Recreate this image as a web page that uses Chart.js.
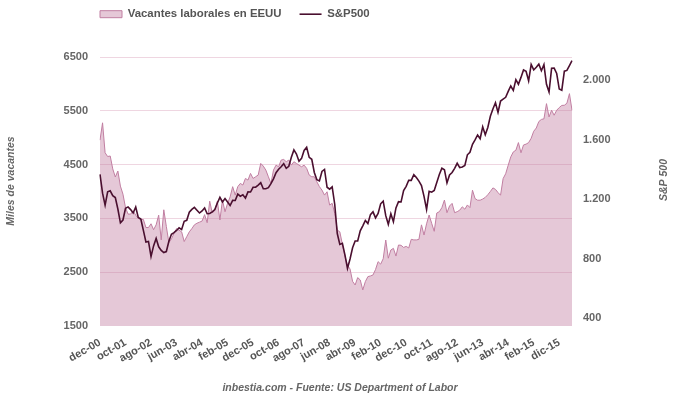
<!DOCTYPE html>
<html>
<head>
<meta charset="utf-8">
<script src="https://cdn.jsdelivr.net/npm/chart.js@4.4.1/dist/chart.umd.min.js"></script>
<style>
	html, body { margin: 0; padding: 0; background: #fff; }
	#wrap { width: 680px; height: 401px; }
</style>
</head>
<body>
<div id="wrap"><canvas id="chart"></canvas></div>
<script>
// Vacantes laborales (miles), mensual dic-2000 .. may-2016.
var vacantes = [
	4955,
	5277, 4720, 4650, 4660, 4420, 4270, 4380, 4100, 3950, 3700, 3580, 3580,
	3640, 3560, 3500, 3480, 3480, 3330, 3330, 3400, 3290, 3380, 3560, 3100,
	3660, 3350, 3050, 3120, 3220, 3310, 3280, 3250, 3070, 3160, 3250, 3310,
	3380, 3410, 3430, 3450, 3570, 3420, 3820, 3600, 3650, 3820, 3470, 3840,
	3624, 3780, 3900, 4090, 3933, 4090, 4150, 4120, 4243, 4212, 4336, 4243,
	4274, 4305, 4522, 4472, 4398, 4274, 4150, 4398, 4490, 4460, 4584, 4596,
	4553, 4584, 4490, 4553, 4522, 4490, 4460, 4490, 4430, 4305, 4274, 4274,
	4180, 4090, 4026, 3933, 3995, 3748, 3780, 3593, 3283, 3250, 3020, 2800,
	2630, 2560, 2330, 2262, 2400, 2356, 2170, 2325, 2418, 2430, 2448, 2550,
	2696, 2650, 2750, 3098, 2760, 2913, 2943, 2800, 3005, 3000, 2960, 2980,
	2950, 3111, 3100, 3100, 3110, 3380, 3191, 3400, 3563, 3408, 3260, 3600,
	3625, 3700, 3841, 3606, 3730, 3779, 3606, 3625, 3653, 3715, 3671, 3750,
	3700, 4024, 3869, 3838, 3838, 3860, 3890, 3940, 4000, 4067, 4040, 3980,
	3931, 4240, 4330, 4488, 4643, 4736, 4767, 4909, 4720, 4865, 4880, 4909,
	4990, 5120, 5180, 5300, 5340, 5350, 5633, 5386, 5510, 5417, 5510, 5560,
	5600, 5603, 5640, 5819, 5510
];

// S&P500, mismo rango de meses.
var sp500 = [
	1366, 1240, 1160, 1249, 1256, 1224, 1211, 1134, 1041, 1060, 1139, 1148,
	1130, 1107, 1147, 1077, 1067, 990, 912, 916, 815, 886, 936, 880,
	856, 841, 848, 917, 964, 975, 990, 1008, 996, 1051, 1058, 1112,
	1131, 1145, 1126, 1107, 1121, 1141, 1102, 1104, 1115, 1130, 1174, 1212,
	1181, 1204, 1181, 1157, 1192, 1191, 1234, 1220, 1229, 1207, 1249, 1248,
	1280, 1281, 1295, 1311, 1270, 1270, 1277, 1304, 1336, 1378, 1401, 1418,
	1438, 1407, 1421, 1482, 1531, 1503, 1455, 1474, 1527, 1549, 1481, 1468,
	1379, 1331, 1323, 1386, 1400, 1280, 1267, 1283, 1166, 969, 896, 903,
	826, 735, 798, 873, 919, 919, 987, 1021, 1057, 1036, 1096, 1115,
	1074, 1104, 1169, 1187, 1089, 1031, 1102, 1049, 1141, 1183, 1181, 1258,
	1286, 1327, 1326, 1364, 1345, 1321, 1292, 1219, 1131, 1253, 1247, 1258,
	1312, 1366, 1408, 1398, 1310, 1362, 1379, 1407, 1441, 1412, 1416, 1426,
	1498, 1515, 1569, 1598, 1631, 1606, 1686, 1633, 1682, 1757, 1806, 1848,
	1783, 1859, 1872, 1884, 1924, 1960, 1931, 2003, 1972, 2018, 2068, 2059,
	1995, 2105, 2068, 2086, 2107, 2063, 2104, 1972, 1920, 2079, 2080, 2044,
	1940, 1932, 2060, 2065, 2097, 2130
];

// Etiquetas del eje X (una cada 10 meses).
var xTickLabels = ['dec-00', 'oct-01', 'ago-02', 'jun-03', 'abr-04', 'feb-05', 'dec-05', 'oct-06', 'ago-07',
	'jun-08', 'abr-09', 'feb-10', 'dec-10', 'oct-11', 'ago-12', 'jun-13', 'abr-14', 'feb-15', 'dic-15'];
var rightTicks = [400, 800, 1200, 1600, 2000];
var monthNames = ['ene', 'feb', 'mar', 'abr', 'may', 'jun', 'jul', 'ago', 'sep', 'oct', 'nov', 'dic'];

var months = vacantes.map(function (v, i) {
	var m = (11 + i) % 12;
	var y = 2000 + Math.floor((11 + i) / 12);
	return monthNames[m] + '-' + String(y).slice(2);
});

var tickFont = { family: '"Liberation Sans", Arial, sans-serif', size: 11, weight: 'bold' };
var titleFont = 'italic bold 10.5px "Liberation Sans", Arial, sans-serif';

// Legend position, axis titles.
var tweaks = {
	id: 'tweaks',
	beforeLayout: function (chart) {
		var lg = chart.legend;
		if (lg && !lg._patched) {
			var fit = lg.fit;
			lg.fit = function () { fit.call(this); this.height = 57; };
			lg._patched = true;
		}
	},
	afterLayout: function (chart) {
		chart.legend.left = 82;
		chart.legend.top = -9.5;
	},
	afterDraw: function (chart) {
		var ctx = chart.ctx;
		ctx.save();
		ctx.font = titleFont;
		ctx.fillStyle = '#666';
		ctx.textAlign = 'center';
		ctx.textBaseline = 'middle';
		ctx.translate(11, 181);
		ctx.rotate(-Math.PI / 2);
		ctx.fillText('Miles de vacantes', 0, 0);
		ctx.restore();
		ctx.save();
		ctx.font = titleFont;
		ctx.fillStyle = '#666';
		ctx.textAlign = 'center';
		ctx.textBaseline = 'middle';
		ctx.translate(664, 180);
		ctx.rotate(-Math.PI / 2);
		ctx.fillText('S&P 500', 0, 0);
		ctx.restore();
	}
};

new Chart(document.getElementById('chart'), {
	type: 'line',
	data: {
		labels: months,
		datasets: [{
			label: 'Vacantes laborales en EEUU',
			data: vacantes,
			yAxisID: 'y',
			borderColor: '#c17fa2',
			backgroundColor: 'rgba(192,125,160,0.42)',
			borderWidth: 1,
			fill: 'start',
			pointRadius: 0,
			pointStyle: 'rect',
			order: 2
		}, {
			label: 'S&P500',
			data: sp500,
			yAxisID: 'y1',
			borderColor: '#4a0f2f',
			backgroundColor: '#4a0f2f',
			borderWidth: 1.6,
			fill: false,
			pointRadius: 0,
			pointStyle: 'line',
			order: 1
		}]
	},
	options: {
		responsive: true,
		maintainAspectRatio: false,
		animation: false,
		layout: { padding: 0 },
		plugins: {
			legend: {
				align: 'start',
				labels: {
					usePointStyle: true,
					pointStyleWidth: 22,
					boxHeight: 7,
					padding: 18,
					color: '#555',
					font: { family: '"Liberation Sans", Arial, sans-serif', size: 11.4, weight: 'bold' },
					sort: function (a, b) { return a.datasetIndex - b.datasetIndex; }
				}
			},
			title: {
				display: true,
				position: 'bottom',
				text: 'inbestia.com - Fuente: US Department of Labor',
				color: '#666',
				font: { family: '"Liberation Sans", Arial, sans-serif', size: 10.5, weight: 'bold', style: 'italic' },
				padding: { top: 15.7, bottom: 6.7 }
			},
			tooltip: { enabled: false }
		},
		scales: {
			x: {
				grid: { display: false },
				border: { display: false },
				afterFit: function (scale) { scale.height = 40; },
				ticks: {
					autoSkip: false,
					minRotation: 30,
					maxRotation: 30,
					padding: 2,
					color: '#555',
					font: tickFont,
					callback: function (v, i) { return i % 10 === 0 ? xTickLabels[i / 10] : ''; }
				}
			},
			y: {
				position: 'left',
				min: 1500,
				max: 6500,
				z: 1,
				border: { display: false },
				afterFit: function (scale) { scale.width = 100; },
				grid: {
					drawTicks: false,
					lineWidth: 1,
					color: function (c) { return c.tick && c.tick.value === 1500 ? 'rgba(0,0,0,0)' : 'rgba(190,90,135,0.25)'; }
				},
				ticks: {
					stepSize: 1000,
					padding: 12,
					color: '#666',
					font: tickFont,
					callback: function (v) { return String(v); }
				}
			},
			y1: {
				position: 'right',
				min: 348,
				max: 2155,
				border: { display: false },
				grid: { display: false, drawTicks: false },
				afterFit: function (scale) { scale.width = 108; },
				afterBuildTicks: function (scale) {
					scale.ticks = rightTicks.map(function (v) { return { value: v }; });
				},
				ticks: {
					padding: 11,
					color: '#666',
					font: tickFont,
					callback: function (v) {
						return v >= 1000 ? Math.floor(v / 1000) + '.' + String(v % 1000).padStart(3, '0') : String(v);
					}
				}
			}
		}
	},
	plugins: [tweaks]
});
</script>
</body>
</html>
